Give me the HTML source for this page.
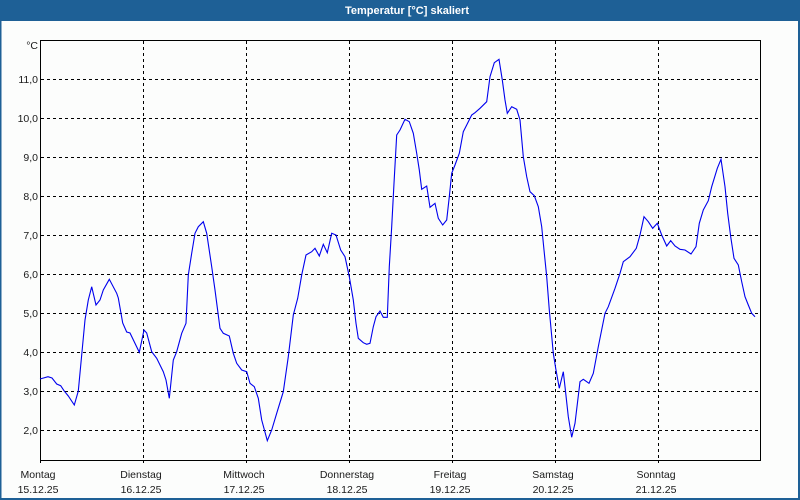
<!DOCTYPE html>
<html><head><meta charset="utf-8"><style>
html,body{margin:0;padding:0;background:#fcfdfc;}
svg{display:block;}
text{font-family:"Liberation Sans",sans-serif;font-size:10.5px;fill:#1a1a1a;}
</style></head><body>
<svg width="800" height="500" viewBox="0 0 800 500" xmlns="http://www.w3.org/2000/svg">
<rect x="0" y="0" width="800" height="500" fill="#fcfdfc"/>
<rect x="0" y="0" width="800" height="21" fill="#1e6096"/>
<rect x="0" y="0" width="1.5" height="500" fill="#1e6096"/>
<rect x="798" y="0" width="2" height="500" fill="#1e6096"/>
<rect x="0" y="498" width="800" height="2" fill="#1e6096"/>
<text x="407" y="14" text-anchor="middle" style="fill:#ffffff;font-weight:bold;font-size:11px">Temperatur [°C] skaliert</text>
<g stroke="#000" stroke-width="1" stroke-dasharray="3,3" fill="none">
<line x1="41" y1="79.5" x2="760" y2="79.5"/>
<line x1="41" y1="118.5" x2="760" y2="118.5"/>
<line x1="41" y1="157.5" x2="760" y2="157.5"/>
<line x1="41" y1="196.5" x2="760" y2="196.5"/>
<line x1="41" y1="235.5" x2="760" y2="235.5"/>
<line x1="41" y1="274.5" x2="760" y2="274.5"/>
<line x1="41" y1="313.5" x2="760" y2="313.5"/>
<line x1="41" y1="352.5" x2="760" y2="352.5"/>
<line x1="41" y1="391.5" x2="760" y2="391.5"/>
<line x1="41" y1="430.5" x2="760" y2="430.5"/>
<line x1="143.5" y1="41" x2="143.5" y2="460"/>
<line x1="246.5" y1="41" x2="246.5" y2="460"/>
<line x1="349.5" y1="41" x2="349.5" y2="460"/>
<line x1="452.5" y1="41" x2="452.5" y2="460"/>
<line x1="555.5" y1="41" x2="555.5" y2="460"/>
<line x1="658.5" y1="41" x2="658.5" y2="460"/>
</g>
<g stroke="#000" stroke-width="1" fill="none">
<rect x="40.5" y="40.5" width="720" height="420"/>
<line x1="40.5" y1="460" x2="40.5" y2="463"/>
<line x1="143.5" y1="460" x2="143.5" y2="463"/>
<line x1="246.5" y1="460" x2="246.5" y2="463"/>
<line x1="349.5" y1="460" x2="349.5" y2="463"/>
<line x1="452.5" y1="460" x2="452.5" y2="463"/>
<line x1="555.5" y1="460" x2="555.5" y2="463"/>
<line x1="658.5" y1="460" x2="658.5" y2="463"/>
</g>
<g text-anchor="end">
<text x="38" y="49">°C</text>
<text x="38" y="83">11,0</text>
<text x="38" y="122">10,0</text>
<text x="38" y="161">9,0</text>
<text x="38" y="200">8,0</text>
<text x="38" y="239">7,0</text>
<text x="38" y="278">6,0</text>
<text x="38" y="317">5,0</text>
<text x="38" y="356">4,0</text>
<text x="38" y="395">3,0</text>
<text x="38" y="434">2,0</text>
</g>
<g text-anchor="middle">
<text x="38" y="478">Montag</text><text x="38" y="493">15.12.25</text>
<text x="141" y="478">Dienstag</text><text x="141" y="493">16.12.25</text>
<text x="244" y="478">Mittwoch</text><text x="244" y="493">17.12.25</text>
<text x="347" y="478">Donnerstag</text><text x="347" y="493">18.12.25</text>
<text x="450" y="478">Freitag</text><text x="450" y="493">19.12.25</text>
<text x="553" y="478">Samstag</text><text x="553" y="493">20.12.25</text>
<text x="656" y="478">Sonntag</text><text x="656" y="493">21.12.25</text>
</g>
<polyline fill="none" stroke="#0000ee" stroke-width="1.1" points="40,379 48,376.7 52,378 56.7,384 60.7,385.7 64,390.7 68.3,396 74.3,405 78.3,391 81.7,355 85,320 88.3,300 91.7,286.7 96,305 100,300 103.3,290 109.3,279.3 116.7,293.3 118.3,298 122.7,323 126.7,332 130,333 139.3,352.3 144,330 146.7,333 151.7,351.7 156.7,358.3 163.3,371.7 166,380 169.3,398.3 173.3,360 176.7,351.7 181.7,333.3 186,323.3 188.3,275 191.7,253.3 195,233.3 198.3,226.7 203.3,221.7 206.7,233.3 211.7,266.7 215,290 220,328.3 223.3,333.3 229.3,336 233.3,353.3 236.7,363.3 241.7,370 246.7,371.7 250,383.3 254.3,386.7 258.3,398.3 261.7,420 267.3,440.7 271.7,430 276.7,413.3 283.3,391.7 288.3,356.7 293.3,315 297.7,298.3 301.7,275 306,255 311.7,251.7 315,248.3 319.3,256 323.3,244.3 327.3,252.7 331.7,233.3 336,235 340.7,250 345,256.7 349.3,276.7 353.3,300 356,323.3 358.3,338.3 363.3,342.7 366.7,344.3 370,343.3 373.3,326.7 376,316.7 380,311 383.3,317.3 387.3,317.3 389.3,266.7 391.7,226.7 394,183.3 396.7,135 400,130 405,119.3 409.3,121.7 413.3,133.3 416.7,153.3 419.3,170 421.7,189.3 426.7,186 430,207.3 435,203.3 438.3,218.3 442.7,225 446.7,220 449.3,196.7 451.7,173.3 455,165 459.3,153.3 463.3,131.7 466.7,125 471.7,115 475,112.7 480,108.3 486.7,101.7 490,76.7 494.3,62.7 499,59.3 502.3,80 505,100 507.3,113.3 511.7,106.7 516.7,109.3 520,120 523.3,156.7 526.7,176.7 530,191.7 534.3,195.7 538.3,206.7 541.7,226.7 544,250 546.7,276.7 549.3,310 553.3,353.3 555.7,368.3 559.3,388.3 563.3,371.7 565,386.7 568.3,416.7 571.7,437.3 575,423.3 580,381.7 583.3,379.3 589,383.3 593.3,373.3 598.3,346.7 605,313.3 608.3,306.7 615,288.3 620,273.3 623.3,261.7 630,256.7 636.3,248.3 640,235 644,216.7 648.3,221.7 652.7,228.3 657.3,223.3 661.7,235 666.7,246 670.7,240.7 675,246 680,249.3 685,250 691,254 696,246.7 699.3,223.3 703.3,210 708.3,200.7 711.7,186.7 717.3,168.3 721,159.3 725,186.7 727.7,213.3 730.7,236.7 734,258.3 738.3,265 741.7,281.7 745,296.7 748.3,305 751.7,313.3 755,316.7"/>
</svg>
</body></html>
